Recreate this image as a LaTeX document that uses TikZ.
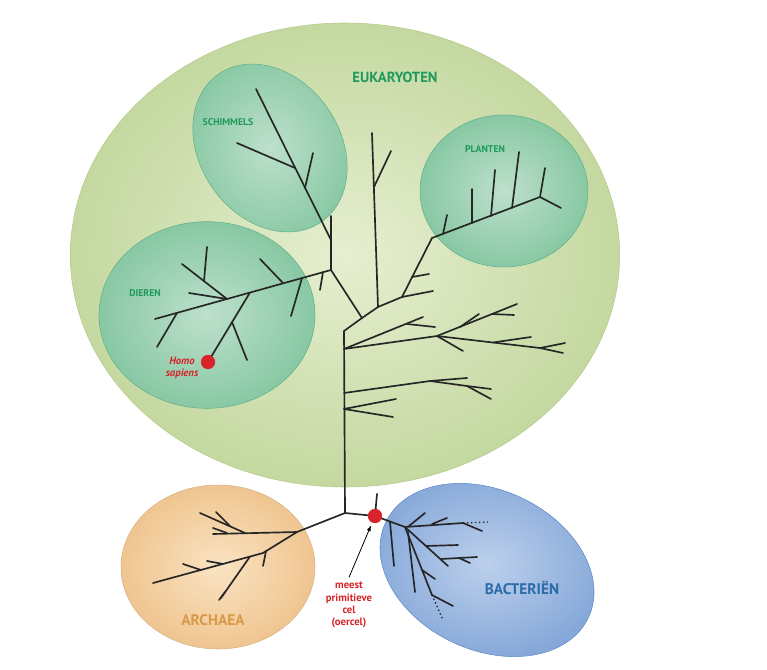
\documentclass[tikz,border=0pt]{standalone}
\usepackage{fontspec}
\newfontfamily\labelfont{PT Sans}
\usetikzlibrary{arrows.meta}

\definecolor{eukin}{HTML}{E6EFD0}
\definecolor{eukout}{HTML}{C4D8A0}
\definecolor{eukedge}{HTML}{B3CB8A}
\definecolor{subin}{HTML}{BDE0CB}
\definecolor{subout}{HTML}{88C8A4}
\definecolor{subedge}{HTML}{62AF88}
\definecolor{arcin}{HTML}{FAE3C2}
\definecolor{arcout}{HTML}{EFC590}
\definecolor{bacin}{HTML}{BCD0EC}
\definecolor{bacout}{HTML}{86A8D9}
\definecolor{bacedge}{HTML}{5D8AC6}
\definecolor{labgreen}{HTML}{1E9A5C}
\definecolor{labred}{HTML}{D8232A}
\definecolor{laborange}{HTML}{D99A48}
\definecolor{labblue}{HTML}{2A6BA9}

\begin{document}
\begin{tikzpicture}[x=0.75pt, y=-0.75pt]
    \tikzstyle{branch} = [draw=black!85, line width=1.25pt, line cap=round, line join=round]
    \tikzstyle{faint} = [branch, line width=1pt, dotted, line cap=butt]
    \tikzstyle{dot} = [circle, fill=labred, inner sep=0pt, minimum size=10.5pt]
    \tikzstyle{group} = [font=\labelfont\bfseries\fontsize{7.3}{8}\selectfont, text=labgreen]
    \tikzstyle{domainlabel} = [font=\labelfont\bfseries\fontsize{11.5}{13}\selectfont]
    \tikzstyle{redtext} = [font=\labelfont\bfseries\fontsize{8}{9.2}\selectfont, text=labred, align=center]

    \useasboundingbox (0,0) rectangle (767,670);

    % domains and groups
    \path[draw=eukedge, inner color=eukin, outer color=eukout] (345,255) ellipse [x radius=206pt, y radius=174pt];
    \path[draw=subedge, inner color=subin, outer color=subout, rotate around={-55:(270,148)}] (270,148) ellipse [x radius=67.5pt, y radius=52.5pt];
    \path[draw=subedge, inner color=subin, outer color=subout] (207,315) ellipse [x radius=81pt, y radius=70pt];
    \path[draw=subedge, inner color=subin, outer color=subout] (504,191) ellipse [x radius=63pt, y radius=57pt];
    \path[draw=arcout!90!black, inner color=arcin, outer color=arcout] (218,567) ellipse [x radius=72.75pt, y radius=61.5pt];
    \path[draw=bacedge, inner color=bacin, outer color=bacout, rotate around={-25:(487,570)}] (487,570) ellipse [x radius=84pt, y radius=60pt];

    \node[dot] (oercel) at (375,516) {};
    \node[dot] (homo) at (208,362) {};

    % trunk and eukaryote branches
    \draw[branch] (345,513) -- (344,331) -- (362,318) -- (378,307) -- (402,297) -- (432,238) -- (540,197) -- (545,168);
    \draw[branch] (540,197) -- (561,208);
    \draw[branch] (443,234) -- (447,215);
    \draw[branch] (472,223) -- (472,189);
    \draw[branch] (491,216) -- (495,170);
    \draw[branch] (512,208) -- (519,152);
    \draw[branch] (402,297) -- (433,291);
    \draw[branch] (412,277) -- (429,274);
    \draw[branch] (378,307) -- (372,133);
    \draw[branch] (374,187) -- (391,151);
    \draw[branch] (362,318) -- (331,270) -- (331,216);
    \draw[branch] (331,240) -- (256,89);
    \draw[branch] (305,188) -- (313,153);
    \draw[branch] (295,168) -- (237,143);
    \draw[branch] (331,270) -- (155,319);
    \draw[branch] (323,272) -- (320,290);
    \draw[branch] (302,278) -- (291,316);
    \draw[branch] (283,283) -- (260,259);
    \draw[branch] (250,292.5) -- (homo.center);
    \draw[branch] (232,322) -- (247,360);
    \draw[branch] (227,299) -- (189,293);
    \draw[branch] (227,299) -- (182,264);
    \draw[branch] (204,281) -- (207,247);
    \draw[branch] (177,313) -- (157,347);
    \draw[branch] (344,349) -- (423,317);
    \draw[branch] (407,324) -- (435,327);
    \draw[branch] (344,349) -- (437,336) -- (517,304);
    \draw[branch] (460,327) -- (479,314);
    \draw[branch] (492,314) -- (514,315);
    \draw[branch] (437,336) -- (540,348) -- (565,343);
    \draw[branch] (540,348) -- (563,353);
    \draw[branch] (437,336) -- (463,351);
    \draw[branch] (493,342.5) -- (531,337);
    \draw[branch] (344,393) -- (430,381) -- (467,378);
    \draw[branch] (430,381) -- (467,386) -- (491,389);
    \draw[branch] (467,386) -- (491,399);
    \draw[branch] (344,409) -- (396,399);
    \draw[branch] (344,409) -- (393,417);

    % archaea
    \draw[branch] (345,513) -- (297,532) -- (213,534);
    \draw[branch] (245,533) -- (200,513);
    \draw[branch] (230,526) -- (216,512);
    \draw[branch] (227,533) -- (213,528);
    \draw[branch] (297,532) -- (263,553) -- (153,583);
    \draw[branch] (266,551) -- (263,566);
    \draw[branch] (250,556.5) -- (221,598);
    \draw[branch] (225,592) -- (219,600);
    \draw[branch] (223,564) -- (207,561);
    \draw[branch] (201,570) -- (183,564);

    % bacteria
    \draw[branch] (345,513) -- (oercel.center) -- (405,527) -- (463,523);
    \draw[branch] (oercel.center) -- (377,494);
    \draw[branch] (390,522) -- (394,566);
    \draw[faint] (463,523) -- (488,522);
    \draw[branch] (463,523) -- (482,531);
    \draw[branch] (409,526) -- (425,513);
    \draw[branch] (432,524) -- (447,518);
    \draw[branch] (405,527) -- (448,566);
    \draw[branch] (426,546) -- (458,545);
    \draw[branch] (441,559) -- (477,557);
    \draw[branch] (459,558) -- (470,563);
    \draw[branch] (408,532) -- (415,592);
    \draw[branch] (405,527) -- (432,595) -- (453,606);
    \draw[branch] (422,570) -- (435,579);
    \draw[faint] (432,595) -- (443,620);

    \node[dot] at (oercel) {};
    \node[dot] at (homo) {};

    % labels
    \node[domainlabel, text=labgreen, font=\labelfont\bfseries\fontsize{11}{13}\selectfont] (eukaryoten) at (395,77) {EUKARYOTEN};
    \node[group] (schimmels) at (228,122) {SCHIMMELS};
    \node[group] (planten) at (485,149) {PLANTEN};
    \node[group] (dieren) at (145,293) {DIEREN};
    \node[redtext, font=\labelfont\bfseries\itshape\fontsize{8}{9.2}\selectfont] (sapiens) at (182,368) {Homo\\sapiens};
    \node[domainlabel, text=laborange] (archaea) at (213,620) {ARCHAEA};
    \node[domainlabel, text=labblue] (bacterien) at (522,588) {BACTERIËN};
    \node[redtext] (oerlabel) at (349,605) {meest\\primitieve\\cel\\(oercel)};

    \draw[-{Latex[length=4.5pt, width=3pt]}, line width=0.6pt, shorten >=2pt] (oerlabel.north) -- (oercel);
\end{tikzpicture}
\end{document}
